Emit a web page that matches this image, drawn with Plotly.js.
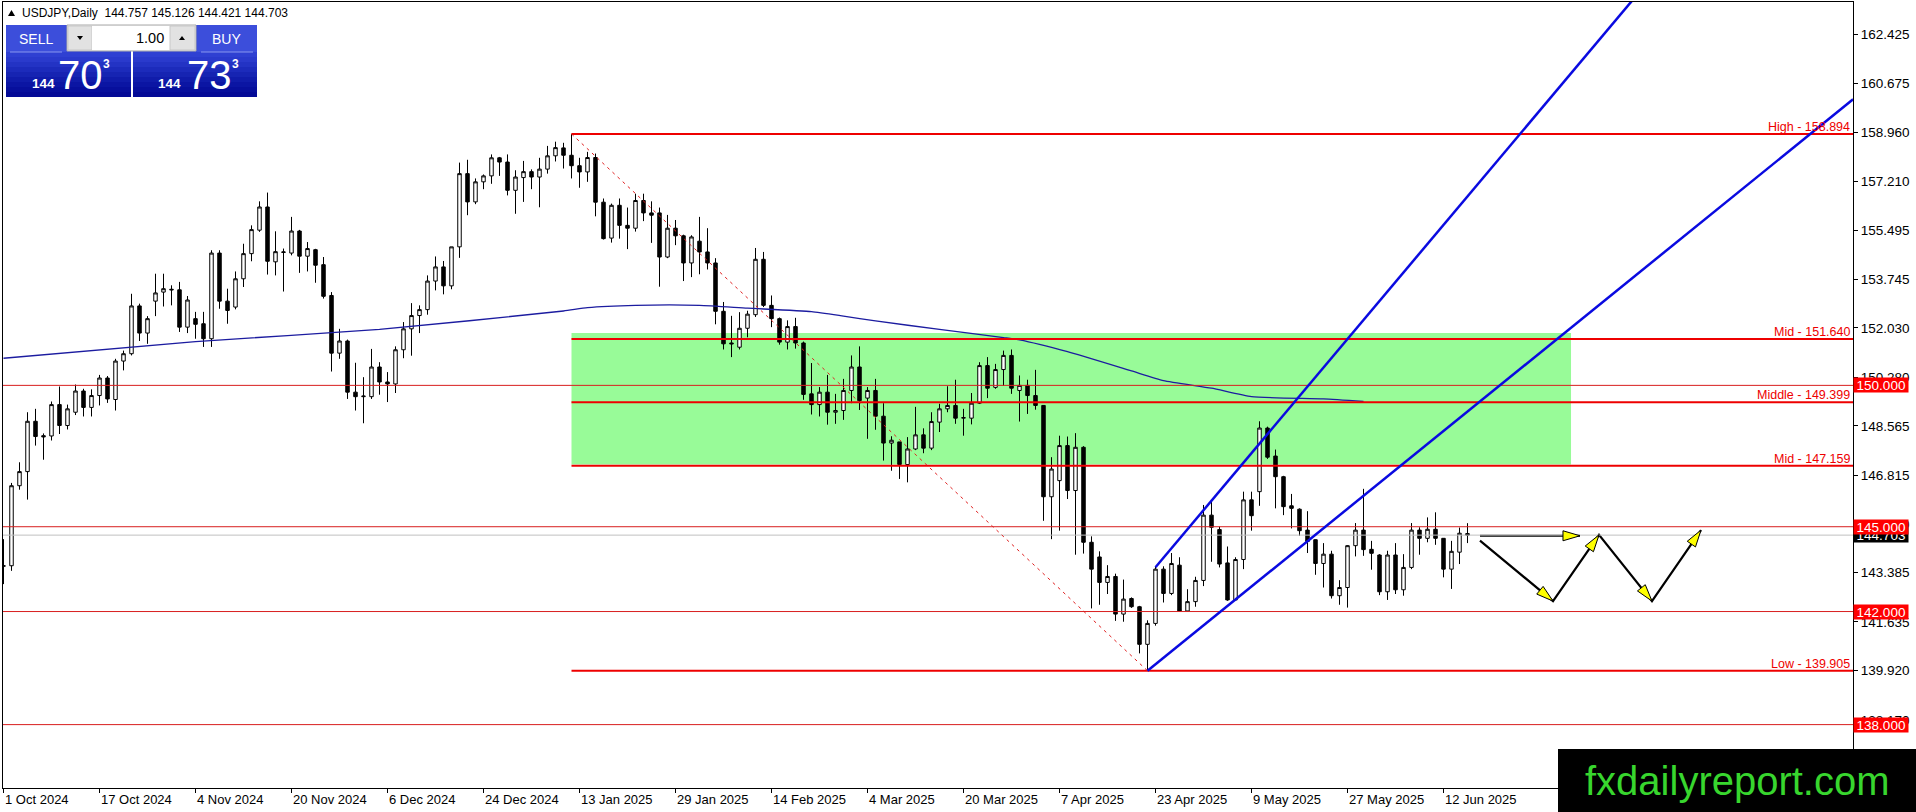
<!DOCTYPE html>
<html><head><meta charset="utf-8">
<script src="https://cdn.plot.ly/plotly-3.0.1.min.js"></script>
<style>html,body{margin:0;padding:0;background:#fff;overflow:hidden}#chart{width:1916px;height:812px}</style>
</head><body><div id="chart"></div>
<script>
// ---------------- DATA ----------------
const openP = [143.60,143.62,146.45,146.95,148.73,148.22,148.21,149.32,148.58,149.05,149.80,149.22,149.64,150.26,149.50,150.86,151.12,152.81,151.85,152.98,153.30,153.40,153.38,152.06,152.36,152.18,151.65,154.68,152.98,152.77,153.77,154.66,155.49,156.31,154.37,154.70,154.68,155.46,154.57,154.80,154.27,153.18,151.14,151.57,149.76,149.60,149.60,150.65,150.12,150.05,151.26,152.00,152.47,152.68,153.69,154.19,153.52,154.90,157.49,156.49,157.20,157.41,158.05,157.90,156.90,157.35,157.56,157.37,157.65,158.12,158.40,158.14,157.77,157.55,158.06,156.48,155.21,156.37,155.66,155.56,156.54,156.10,156.10,154.54,155.56,155.29,154.33,155.10,154.72,154.33,152.62,151.50,151.35,152.02,152.50,154.46,152.83,152.36,151.53,152.08,151.50,149.70,149.32,149.76,149.05,149.11,149.82,150.65,149.55,149.82,148.91,147.96,148.00,147.20,147.75,148.25,147.78,148.70,149.17,149.29,148.84,148.84,149.37,150.70,149.93,150.56,151.06,149.82,150.00,149.64,149.29,146.06,146.63,147.87,146.28,147.81,144.45,143.93,143.03,143.24,141.91,142.46,142.17,140.84,141.58,143.50,142.64,143.64,142.02,142.35,143.10,145.41,144.90,143.72,142.41,143.84,145.95,146.24,148.49,147.50,146.77,145.74,145.62,144.88,144.54,143.70,144.03,142.56,142.85,144.33,144.88,144.20,144.00,142.70,144.00,142.77,143.56,144.88,144.59,144.91,144.59,143.50,144.10,144.757];
const highP = [144.56,146.55,147.28,149.05,149.17,148.30,149.43,149.96,149.32,150.03,149.88,149.86,150.37,150.33,150.94,151.23,153.24,152.89,152.45,153.95,153.95,153.54,153.66,153.16,152.60,152.60,154.78,154.78,153.42,154.03,155.01,155.66,156.51,156.82,155.45,154.84,155.96,155.50,155.07,154.83,154.54,153.30,152.00,151.62,150.80,150.29,151.29,150.82,150.47,151.38,152.24,152.91,152.83,153.89,154.56,154.40,154.90,157.88,157.98,157.32,157.46,158.17,158.08,158.17,157.61,157.94,157.64,158.05,158.47,158.62,158.58,158.894,158.05,158.26,158.20,156.61,156.43,156.61,156.29,156.78,156.78,156.51,156.29,156.03,155.85,155.33,155.31,155.96,155.56,154.50,152.95,152.46,152.59,152.64,154.86,154.72,153.18,152.40,152.30,152.39,151.55,150.79,149.94,150.37,149.70,150.23,151.06,151.38,149.94,150.23,149.37,148.20,148.00,148.17,149.24,148.48,149.05,149.35,149.97,150.20,149.17,149.73,150.82,151.00,150.76,151.23,151.27,150.35,150.20,150.55,149.30,147.46,148.22,148.19,148.31,147.85,144.66,144.13,143.64,143.34,143.13,142.50,142.20,141.69,143.60,143.60,144.07,143.92,142.79,143.23,145.77,145.95,145.00,144.30,143.92,146.24,146.24,148.73,148.54,147.73,146.80,146.16,145.65,145.55,144.55,144.42,144.15,143.11,144.35,145.13,146.34,144.50,144.03,144.15,144.42,144.03,145.13,144.98,145.33,145.51,144.60,144.50,144.97,145.126];
const lowP = [142.97,143.44,146.31,145.96,147.87,147.37,148.05,148.28,148.44,148.95,148.90,148.90,149.29,149.38,149.11,150.53,151.06,151.57,151.47,152.45,152.79,152.83,151.89,151.85,151.65,151.36,151.36,152.71,152.18,152.69,153.48,154.39,155.43,153.92,153.89,153.32,154.60,153.98,154.03,153.63,153.07,150.49,150.94,149.52,149.11,148.66,149.52,149.67,149.41,149.73,150.96,151.05,151.85,152.50,153.36,153.22,153.40,154.51,156.02,156.41,156.94,157.13,157.41,156.72,156.07,156.49,156.94,156.30,157.49,157.92,157.67,157.32,156.99,157.20,155.98,155.16,155.05,155.19,154.82,155.44,155.81,155.04,153.49,154.50,154.96,153.69,153.83,153.93,154.10,152.16,151.27,151.00,151.27,151.70,152.42,152.77,152.06,151.44,151.27,151.30,149.49,148.97,148.90,148.61,148.64,148.78,149.37,149.13,148.11,148.43,147.34,146.98,146.69,146.57,147.71,147.60,147.71,148.35,149.05,148.64,148.22,148.62,149.34,149.55,149.88,149.98,149.70,148.72,148.99,149.14,145.21,144.56,144.86,145.98,144.01,144.05,142.11,142.24,142.62,141.67,141.64,142.13,140.52,139.905,141.50,142.32,142.58,142.00,142.00,142.17,142.90,143.76,143.56,142.38,142.40,143.50,144.86,145.74,147.40,145.65,145.41,144.94,144.68,144.07,143.30,142.85,142.46,142.24,142.14,143.95,143.97,143.48,142.58,142.41,142.62,142.56,143.50,144.01,144.45,144.36,143.21,142.80,143.68,144.421];
const closeP = [143.62,146.45,146.95,148.73,148.19,148.18,149.32,148.58,149.17,149.80,149.22,149.64,150.26,149.52,150.86,151.12,152.81,151.85,152.36,153.27,153.42,153.38,152.06,153.02,152.16,151.65,154.68,152.98,152.65,153.77,154.66,155.51,156.31,154.39,154.73,154.72,155.46,154.57,154.84,154.25,153.15,151.14,151.57,149.76,149.60,149.62,150.65,150.12,150.05,151.26,152.00,152.47,152.68,153.69,154.19,153.52,154.90,157.49,156.49,157.20,157.41,158.05,157.90,156.90,157.37,157.56,157.37,157.65,158.12,158.41,158.14,157.77,157.55,158.06,156.48,155.19,156.37,155.66,155.56,156.54,156.10,156.02,154.54,155.56,155.29,154.33,155.25,154.72,154.33,152.62,151.47,151.47,152.02,152.52,154.46,152.83,152.36,151.53,152.08,151.50,149.68,149.32,149.76,149.05,149.11,149.82,150.65,149.46,149.82,148.91,147.96,148.06,147.20,147.75,148.25,147.78,148.72,149.17,149.29,148.84,148.86,149.37,150.70,149.90,150.56,151.06,149.90,150.00,149.64,149.29,146.06,147.04,147.87,146.28,147.81,144.45,143.50,143.03,143.24,141.91,142.44,142.17,140.84,141.58,143.50,142.64,143.70,142.02,142.35,143.10,145.41,144.98,143.68,142.41,143.84,145.95,145.39,148.49,147.46,146.77,145.71,145.65,144.86,144.48,143.70,144.03,142.56,142.85,144.33,144.88,144.19,144.06,142.70,144.00,142.77,143.56,144.88,144.59,144.91,144.59,143.50,144.13,144.77,144.703];

const tickIndex = [0,12,24,36,48,60,72,84,96,108,120,132,144,156,168,180];
const tickLabels = ["1 Oct 2024","17 Oct 2024","4 Nov 2024","20 Nov 2024","6 Dec 2024","24 Dec 2024","13 Jan 2025","29 Jan 2025","14 Feb 2025","4 Mar 2025","20 Mar 2025","7 Apr 2025","23 Apr 2025","9 May 2025","27 May 2025","12 Jun 2025"];
const yTickValues = [162.425,160.675,158.960,157.210,155.495,153.745,152.030,150.280,148.565,146.815,145.100,143.385,141.635,139.920,138.170];

const maIndex = [0,24,47,70,73,79,87,93,101,105,109,117,125,127,133,141,145,151,156,165,170];
const maValues = [150.96,151.55,151.98,152.63,152.75,152.83,152.83,152.73,152.61,152.45,152.28,151.98,151.69,151.61,151.19,150.51,150.17,149.90,149.60,149.52,149.43];

const fibStart = 71;
const fibLevels = [158.894,151.640,149.399,147.159,139.905];
const fibNames = ["High","Mid","Middle","Mid","Low"];
const zoneTop = 151.85, zoneBottom = 147.20, zoneEnd = 195.94;
const hLevels = [150.000,145.000,142.000,138.000];
const bidPrice = 144.703;

const trendDashed = {x:[71,143], y:[158.894,139.905]};
const channelLower = {x:[143,231.2], y:[139.905,160.12]};
const channelUpper = {x:[144,204], y:[143.565,163.75]};

const arrowFlat = {x:[184.56,197.06], y:[144.68,144.68]};
const arrowZig = {x:[184.56,193.69,199.44,206.06,212.19], y:[144.51,142.37,144.71,142.37,144.88]};

const headerText = "USDJPY,Daily  144.757 145.126 144.421 144.703";

// ---------------- LAYOUT GEOMETRY ----------------
const W = 1916, H = 812, L = 3, R = 1853, T = 2, B = 788;
const SX = 8;
const xmin = -0.0625, xmax = xmin + (R - L) / SX;
const ymin = 135.758, ymax = 163.561;
const SY = (B - T) / (ymax - ymin);
const px = x => (x - L) / (R - L);
const py = y => (B - y) / (B - T);
const toPixX = i => L + (i - xmin) * SX;
const toPixY = p => B - (p - ymin) * SY;
const fromPixX = x => xmin + (x - L) / SX;
const fromPixY = y => ymin + (B - y) / SY;

const idx = openP.map((_, i) => i);
const RED = '#ee0000', RED_THIN = '#d81e1e';

const shapes = [];
const annotations = [];

// green zone
shapes.push({type:'rect', xref:'x', yref:'y', x0:fibStart, x1:zoneEnd, y0:zoneBottom, y1:zoneTop,
  fillcolor:'#98fb98', line:{width:0}, layer:'below'});
// thin horizontal lines
hLevels.forEach(v => shapes.push({type:'line', xref:'paper', yref:'y', x0:0, x1:1, y0:v, y1:v, line:{color:RED_THIN, width:1}}));
// bid line
shapes.push({type:'line', xref:'paper', yref:'y', x0:0, x1:1, y0:bidPrice, y1:bidPrice, line:{color:'#c0c0c0', width:1}});
// fib lines
fibLevels.forEach((v, k) => {
  shapes.push({type:'line', xref:'x', yref:'y', x0:fibStart, x1:xmax, y0:v, y1:v, line:{color:RED, width:2}});
  annotations.push({xref:'paper', yref:'y', x:1, y:v, xanchor:'right', yanchor:'bottom', yshift:-2, xshift:-1,
    text: fibNames[k] + ' - ' + v.toFixed(3), showarrow:false,
    font:{family:'Liberation Sans, Arial', size:12.5, color:RED}});
});
// dashed trend
shapes.push({type:'line', xref:'x', yref:'y', x0:trendDashed.x[0], x1:trendDashed.x[1], y0:trendDashed.y[0], y1:trendDashed.y[1],
  line:{color:'#e02020', width:1, dash:'3px,4px'}});
// channel
[channelLower, channelUpper].forEach(c => shapes.push({type:'line', xref:'x', yref:'y', x0:c.x[0], x1:c.x[1], y0:c.y[0], y1:c.y[1],
  line:{color:'#0a0ae0', width:2.5}}));

// arrowheads (yellow with black border)
function arrowHead(xa, ya, xb, yb) {
  const ax = toPixX(xa), ay = toPixY(ya), bx = toPixX(xb), by = toPixY(yb);
  const dx = bx - ax, dy = by - ay, len = Math.hypot(dx, dy);
  const ux = dx / len, uy = dy / len, nx = -uy, ny = ux;
  const hl = 17, hw = 5;
  const p1 = [bx, by], p2 = [bx - ux*hl + nx*hw, by - uy*hl + ny*hw], p3 = [bx - ux*hl - nx*hw, by - uy*hl - ny*hw];
  const f = p => fromPixX(p[0]) + ',' + fromPixY(p[1]);
  shapes.push({type:'path', xref:'x', yref:'y', path:'M' + f(p1) + ' L' + f(p2) + ' L' + f(p3) + ' Z',
    fillcolor:'#ffff00', line:{color:'#000', width:1}});
}

// price labels at right
function priceLabel(v, bg) {
  annotations.push({xref:'paper', yref:'y', x:1, y:v, xanchor:'left', yanchor:'middle', xshift:0,
    text:v.toFixed(3), showarrow:false, bgcolor:bg, width:52, height:12, borderpad:1,
    font:{family:'Liberation Sans, Arial', size:13.5, color:'#fff'}});
}
priceLabel(bidPrice, '#000');
hLevels.forEach(v => priceLabel(v, '#ff0000'));

// date labels
tickIndex.forEach((t, k) => annotations.push({xref:'x', yref:'paper', x:t, y:py(799), xanchor:'left', yanchor:'middle', xshift:-1,
  text:tickLabels[k], showarrow:false, font:{family:'Liberation Sans, Arial', size:13, color:'#000'}}));

// header
shapes.push({type:'path', xref:'paper', yref:'paper',
  path:'M'+px(8)+','+py(16)+' L'+px(15)+','+py(16)+' L'+px(11.5)+','+py(10)+' Z', fillcolor:'#000', line:{width:0}});
annotations.push({xref:'paper', yref:'paper', x:px(20), y:py(13), xanchor:'left', yanchor:'middle', text:headerText, showarrow:false,
  font:{family:'Liberation Sans, Arial', size:12, color:'#000'}});

// one-click panel
function rectP(x0, y0, x1, y1, fill, lc, lw) {
  shapes.push({type:'rect', xref:'paper', yref:'paper', x0:px(x0), x1:px(x1), y0:py(y1), y1:py(y0),
    fillcolor:fill, line:{color:lc || fill, width:lw || 0}});
}
function textP(x, y, txt, size, color, anchor, bold) {
  annotations.push({xref:'paper', yref:'paper', x:px(x), y:py(y), xanchor:anchor || 'center', yanchor:'middle',
    text: bold ? '<b>' + txt + '</b>' : txt, showarrow:false, font:{family:'Liberation Sans, Arial', size:size, color:color}});
}
const grad = ['#2f40d2','#2a3acc','#2333c4','#1c2bbb','#1624b2','#101caa','#0b15a3','#070f9c','#040a96'];
[[6,131],[133,257]].forEach(([a, b]) => {
  rectP(a, 25, b, 52, '#3c4edb');
  grad.forEach((c, k) => rectP(a, 52 + k*5, b, 52 + (k+1)*5, c));
});
shapes.push({type:'line', xref:'paper', yref:'paper', x0:px(10), x1:px(62), y0:py(52), y1:py(52), line:{color:'#8896ee', width:1}});
shapes.push({type:'line', xref:'paper', yref:'paper', x0:px(201), x1:px(253), y0:py(52), y1:py(52), line:{color:'#8896ee', width:1}});
rectP(67, 25, 196, 51, '#f4f4f4', '#a8a8a8', 1);
rectP(68, 26, 92, 50, '#e2e2e2', '#c8c8c8', 1);
rectP(92, 26, 170, 50, '#ffffff');
rectP(170, 26, 195, 50, '#e2e2e2', '#c8c8c8', 1);
shapes.push({type:'path', xref:'paper', yref:'paper', path:'M'+px(77)+','+py(36)+' L'+px(83)+','+py(36)+' L'+px(80)+','+py(40)+' Z', fillcolor:'#000', line:{width:0}});
shapes.push({type:'path', xref:'paper', yref:'paper', path:'M'+px(179)+','+py(40)+' L'+px(185)+','+py(40)+' L'+px(182)+','+py(36)+' Z', fillcolor:'#000', line:{width:0}});
textP(36, 39, 'SELL', 14, '#fff');
textP(226, 39, 'BUY', 14, '#fff');
textP(166, 38, '1.00', 14.5, '#000', 'right');
textP(43.5, 83, '144', 13.5, '#fff', 'center', true);
textP(80, 75, '70', 40, '#fff');
textP(106, 64, '3', 12, '#fff', 'center', true);
textP(169.5, 83, '144', 13.5, '#fff', 'center', true);
textP(209, 75, '73', 40, '#fff');
textP(235, 64, '3', 12, '#fff', 'center', true);

// watermark
rectP(1558, 749, 1917, 813, '#000');
textP(1737, 781, 'fxdailyreport.com', 40, '#38d62e');

// ---------------- TRACES ----------------
const traces = [
  {type:'candlestick', x:idx, open:openP, high:highP, low:lowP, close:closeP,
   increasing:{line:{color:'#000', width:1}, fillcolor:'#ffffff'},
   decreasing:{line:{color:'#000', width:1}, fillcolor:'#000000'},
   whiskerwidth:0, hoverinfo:'skip', showlegend:false},
  {type:'scatter', mode:'lines', x:maIndex, y:maValues, line:{color:'#1c1ca0', width:1.3, shape:'spline', smoothing:0.5},
   hoverinfo:'skip', showlegend:false},
  {type:'scatter', mode:'lines', x:arrowFlat.x, y:arrowFlat.y, line:{color:'#000', width:2.2}, hoverinfo:'skip', showlegend:false, cliponaxis:false},
  {type:'scatter', mode:'lines', x:arrowZig.x, y:arrowZig.y, line:{color:'#000', width:2.2}, hoverinfo:'skip', showlegend:false, cliponaxis:false}
];
arrowHead(arrowFlat.x[0], arrowFlat.y[0], arrowFlat.x[1], arrowFlat.y[1]);
for (let k = 1; k < arrowZig.x.length; k++) arrowHead(arrowZig.x[k-1], arrowZig.y[k-1], arrowZig.x[k], arrowZig.y[k]);

const layout = {
  width: W, height: H,
  margin: {l:L, r:W - R, t:T, b:H - B, pad:0},
  paper_bgcolor:'#ffffff', plot_bgcolor:'#ffffff',
  showlegend:false, hovermode:false, boxgap:0.38,
  xaxis: {range:[xmin, xmax], autorange:false, showgrid:false, zeroline:false, showline:true, mirror:true,
    linecolor:'#000', linewidth:1, ticks:'outside', ticklen:4, tickcolor:'#000', tickwidth:1,
    tickmode:'array', tickvals:tickIndex, showticklabels:false, rangeslider:{visible:false}, fixedrange:true, automargin:false},
  yaxis: {side:'right', range:[ymin, ymax], autorange:false, showgrid:false, zeroline:false, showline:true, mirror:true,
    linecolor:'#000', linewidth:1, ticks:'outside', ticklen:4, tickcolor:'#000', tickwidth:1,
    tickmode:'array', tickvals:yTickValues, ticktext:yTickValues.map(v => v.toFixed(3)),
    tickfont:{family:'Liberation Sans, Arial', size:13.5, color:'#000'}, fixedrange:true, automargin:false},
  shapes: shapes,
  annotations: annotations
};
Plotly.newPlot('chart', traces, layout, {staticPlot:true, displayModeBar:false});
</script></body></html>
